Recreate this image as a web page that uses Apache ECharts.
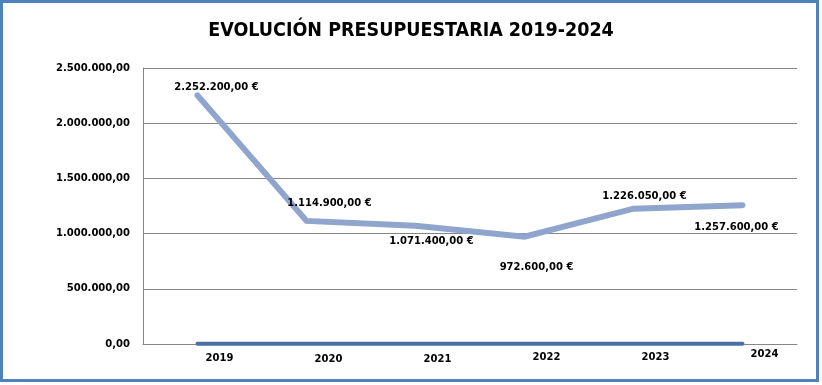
<!DOCTYPE html>
<html><head><meta charset="utf-8">
<script src="https://cdn.jsdelivr.net/npm/echarts@6/dist/echarts.min.js"></script>
<style>html,body{margin:0;padding:0;background:#fff}#c{width:822px;height:385px}</style>
</head><body><div id="c"></div>
<script>
const categories = ['2019','2020','2021','2022','2023','2024'];
const budget = [2252200, 1114900, 1071400, 972600, 1226050, 1257600];
const yearSeries = [2019, 2020, 2021, 2022, 2023, 2024];
const yTicks = [0, 500000, 1000000, 1500000, 2000000, 2500000];
const titleText = 'EVOLUCIÓN PRESUPUESTARIA 2019-2024';

// label placement tweaks (style, not data): centre offset from the point
const labelOffsets = [[19,-8],[23,-18],[16,16],[12,31],[11,-12],[-6,22]];
const catPadTop = [4,5,5,3,3,0];

function fmt(v){
  const s = Math.round(v).toString().replace(/\B(?=(\d{3})+(?!\d))/g,'.');
  return s + ',00';
}

const chart = echarts.init(document.getElementById('c'), null, {renderer:'canvas'});
const rich = {};
catPadTop.forEach((p,i)=>{ rich['c'+i] = {padding:[p,0,0,44], fontFamily:'DejaVu Sans', fontWeight:'bold', fontSize:10, color:'#000'}; });

chart.setOption({
  animation:false,
  backgroundColor:'#fff',
  title:{text:titleText,left:'center',top:16,textStyle:{fontFamily:'DejaVu Sans Condensed',fontWeight:'bold',fontSize:19.5,color:'#000'}},
  graphic:[{type:'rect',shape:{x:1.5,y:1.5,width:816,height:379},style:{fill:'none',stroke:'#4F81BD',lineWidth:3},z:100}],
  grid:{left:143,right:25,top:68,bottom:41},
  xAxis:{type:'category',data:categories,boundaryGap:true,
    axisLine:{lineStyle:{color:'#868686',width:1}},axisTick:{show:false},
    axisLabel:{margin:5,formatter:(v,i)=>'{c'+i+'|'+v+'}',rich:rich}},
  yAxis:{type:'value',min:yTicks[0],max:yTicks[yTicks.length-1],interval:yTicks[1]-yTicks[0],
    axisLine:{show:true,lineStyle:{color:'#868686'}},axisTick:{show:false},
    splitLine:{lineStyle:{color:'#868686',width:1}},
    axisLabel:{margin:13,formatter:fmt,fontFamily:'DejaVu Sans',fontWeight:'bold',fontSize:10,color:'#000'}},
  series:[
    {type:'line',data:yearSeries,symbol:'none',lineStyle:{color:'#4A70A3',width:4,cap:'round'},z:3},
    {type:'line',data:budget.map((v,i)=>({value:v,label:{offset:[labelOffsets[i][0],labelOffsets[i][1]+6]}})),
     symbol:'circle',symbolSize:2,showSymbol:true,itemStyle:{color:'rgba(0,0,0,0)',borderWidth:0},
     lineStyle:{color:'#8FA5CD',width:6,cap:'round',join:'miter'},z:2,
     label:{show:true,position:'top',distance:0,formatter:p=>fmt(p.value)+' €',fontFamily:'DejaVu Sans',fontWeight:'bold',fontSize:10,color:'#000'}}
  ]
});
</script></body></html>
